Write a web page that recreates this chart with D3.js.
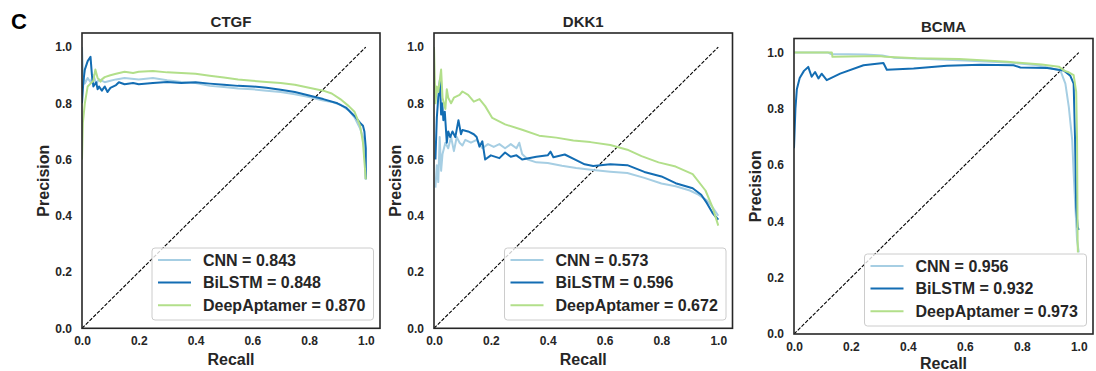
<!DOCTYPE html>
<html>
<head>
<meta charset="utf-8">
<script src="https://cdn.jsdelivr.net/npm/d3@7"></script>
<style>
  html, body { margin: 0; padding: 0; background: #fff; }
  svg { display: block; }
  text { font-family: "Liberation Sans", Arial, sans-serif; font-weight: bold; fill: #262626; }
</style>
</head>
<body>
<svg id="chart" width="1096" height="371"></svg>
<script>
// ---------------- DATA ----------------
const panelTitles = ["CTGF", "DKK1", "BCMA"];
const seriesNames = ["CNN", "BiLSTM", "DeepAptamer"];
const seriesColors = ["#a6cee3", "#136db3", "#b2df8a"];
const aucCTGF = ["0.843", "0.848", "0.870"];
const aucDKK1 = ["0.573", "0.596", "0.672"];
const aucBCMA = ["0.956", "0.932", "0.973"];
const tickValues = [0.0, 0.2, 0.4, 0.6, 0.8, 1.0];
const xLabel = "Recall";
const yLabel = "Precision";
const panelLetter = "C";

// [recall, precision]
const ctgfCNN = [[0,1.0],[0.003,0.92],[0.01,0.87],[0.02,0.89],[0.03,0.875],[0.04,0.9],[0.05,0.87],[0.06,0.885],[0.08,0.875],[0.1,0.88],[0.12,0.885],[0.15,0.89],[0.2,0.885],[0.25,0.89],[0.3,0.882],[0.35,0.876],[0.4,0.872],[0.45,0.862],[0.5,0.858],[0.55,0.853],[0.6,0.85],[0.65,0.845],[0.7,0.84],[0.75,0.832],[0.8,0.822],[0.85,0.81],[0.88,0.805],[0.91,0.795],[0.94,0.775],[0.96,0.75],[0.98,0.71],[0.99,0.68],[0.995,0.63],[1.0,0.53]];
const ctgfBiLSTM = [[0,0.8],[0.005,0.88],[0.01,0.92],[0.02,0.95],[0.03,0.965],[0.035,0.9],[0.04,0.86],[0.05,0.875],[0.055,0.85],[0.06,0.86],[0.07,0.845],[0.08,0.86],[0.09,0.84],[0.1,0.855],[0.12,0.865],[0.13,0.875],[0.15,0.868],[0.18,0.872],[0.2,0.868],[0.25,0.872],[0.3,0.876],[0.35,0.872],[0.4,0.875],[0.45,0.87],[0.5,0.866],[0.55,0.862],[0.6,0.86],[0.65,0.855],[0.7,0.848],[0.75,0.84],[0.8,0.828],[0.85,0.815],[0.9,0.8],[0.93,0.785],[0.96,0.755],[0.98,0.73],[0.99,0.72],[0.995,0.7],[1.0,0.64],[1.0,0.53]];
const ctgfDeep = [[0,0.6],[0.003,0.73],[0.01,0.8],[0.02,0.86],[0.03,0.87],[0.04,0.88],[0.047,0.92],[0.055,0.89],[0.065,0.877],[0.07,0.885],[0.08,0.893],[0.1,0.9],[0.12,0.905],[0.15,0.912],[0.18,0.908],[0.2,0.912],[0.25,0.915],[0.3,0.91],[0.35,0.908],[0.4,0.905],[0.45,0.898],[0.5,0.892],[0.55,0.885],[0.6,0.88],[0.65,0.876],[0.7,0.872],[0.75,0.866],[0.8,0.855],[0.85,0.845],[0.88,0.835],[0.91,0.815],[0.94,0.79],[0.96,0.77],[0.98,0.72],[0.99,0.66],[1.0,0.53]];

const dkk1CNN = [[0.005,0.5],[0.01,0.58],[0.015,0.52],[0.02,0.68],[0.025,0.56],[0.03,0.62],[0.04,0.66],[0.05,0.64],[0.06,0.68],[0.07,0.63],[0.08,0.68],[0.09,0.66],[0.1,0.65],[0.11,0.67],[0.13,0.66],[0.15,0.67],[0.17,0.64],[0.19,0.655],[0.21,0.645],[0.23,0.655],[0.25,0.64],[0.27,0.655],[0.29,0.64],[0.3,0.66],[0.31,0.62],[0.33,0.6],[0.36,0.59],[0.4,0.588],[0.45,0.578],[0.5,0.57],[0.56,0.563],[0.62,0.557],[0.68,0.552],[0.74,0.535],[0.8,0.515],[0.85,0.505],[0.9,0.49],[0.93,0.475],[0.96,0.455],[0.98,0.43],[1.0,0.4]];
const dkk1BiLSTM = [[0.005,0.6],[0.01,0.75],[0.015,0.82],[0.021,0.884],[0.025,0.76],[0.029,0.8],[0.033,0.74],[0.038,0.77],[0.045,0.66],[0.05,0.7],[0.057,0.68],[0.065,0.7],[0.075,0.68],[0.086,0.74],[0.095,0.69],[0.1,0.705],[0.12,0.7],[0.14,0.69],[0.15,0.68],[0.16,0.646],[0.17,0.665],[0.18,0.6],[0.2,0.615],[0.23,0.605],[0.25,0.625],[0.27,0.61],[0.29,0.615],[0.31,0.6],[0.36,0.61],[0.4,0.615],[0.41,0.628],[0.42,0.608],[0.46,0.618],[0.5,0.598],[0.53,0.583],[0.56,0.577],[0.62,0.583],[0.68,0.58],[0.74,0.556],[0.8,0.54],[0.85,0.516],[0.91,0.498],[0.94,0.475],[0.96,0.445],[0.98,0.41],[1.0,0.386]];
const dkk1Deep = [[0,1.0],[0.005,0.8],[0.01,0.86],[0.015,0.84],[0.025,0.92],[0.03,0.82],[0.04,0.78],[0.045,0.85],[0.05,0.82],[0.06,0.8],[0.07,0.82],[0.09,0.83],[0.1,0.842],[0.12,0.83],[0.14,0.806],[0.16,0.815],[0.18,0.79],[0.205,0.748],[0.25,0.725],[0.31,0.706],[0.37,0.685],[0.43,0.678],[0.49,0.668],[0.55,0.662],[0.62,0.652],[0.68,0.635],[0.73,0.612],[0.79,0.59],[0.85,0.575],[0.91,0.548],[0.955,0.49],[0.98,0.43],[1.0,0.365]];

const bcmaCNN = [[0,1.0],[0.12,1.0],[0.13,0.995],[0.25,0.993],[0.31,0.99],[0.35,0.982],[0.45,0.978],[0.6,0.972],[0.75,0.965],[0.85,0.956],[0.9,0.945],[0.936,0.935],[0.953,0.89],[0.965,0.807],[0.977,0.689],[0.982,0.571],[0.994,0.334],[1.0,0.29]];
const bcmaBiLSTM = [[0,0.66],[0.005,0.8],[0.01,0.87],[0.02,0.91],[0.035,0.935],[0.05,0.949],[0.062,0.914],[0.074,0.931],[0.086,0.908],[0.097,0.925],[0.115,0.902],[0.162,0.925],[0.244,0.955],[0.314,0.963],[0.326,0.939],[0.42,0.943],[0.537,0.953],[0.654,0.957],[0.771,0.955],[0.795,0.947],[0.889,0.945],[0.947,0.936],[0.97,0.918],[0.982,0.89],[0.987,0.69],[0.991,0.45],[0.996,0.38],[1.0,0.37]];
const bcmaDeep = [[0,1.0],[0.133,1.0],[0.135,0.985],[0.3,0.988],[0.32,0.985],[0.43,0.98],[0.58,0.977],[0.75,0.967],[0.87,0.958],[0.93,0.95],[0.95,0.935],[0.965,0.93],[0.982,0.92],[0.991,0.86],[0.994,0.69],[0.996,0.33],[0.997,0.29]];

// ---------------- DRAW ----------------
const svg = d3.select("#chart");

svg.append("text")
  .attr("x", 11).attr("y", 28.5)
  .style("font-size", "22px").style("fill", "#000")
  .text(panelLetter);

const panels = [
  { title: panelTitles[0], data: [ctgfCNN, ctgfBiLSTM, ctgfDeep], auc: aucCTGF, left: 82, top: 33, right: 380, bottom: 328.3, legTop: 248, legLeft: 152, xlabY: 365 },
  { title: panelTitles[1], data: [dkk1CNN, dkk1BiLSTM, dkk1Deep], auc: aucDKK1, left: 434, top: 33, right: 732.5, bottom: 328.3, legTop: 248, legLeft: 504.5, xlabY: 365 },
  { title: panelTitles[2], data: [bcmaCNN, bcmaBiLSTM, bcmaDeep], auc: aucBCMA, left: 794, top: 38.5, right: 1093, bottom: 334, legTop: 254, legLeft: 864.5, xlabY: 368.5 }
];

panels.forEach((p, pi) => {
  const x = d3.scaleLinear().domain([0, 1.05]).range([p.left, p.right]);
  const y = d3.scaleLinear().domain([0, 1.05]).range([p.bottom, p.top]);
  const g = svg.append("g");

  const clipId = "clip" + pi;
  g.append("clipPath").attr("id", clipId)
    .append("rect").attr("x", p.left).attr("y", p.top)
    .attr("width", p.right - p.left).attr("height", p.bottom - p.top);

  const plot = g.append("g").attr("clip-path", `url(#${clipId})`);

  // diagonal
  plot.append("line")
    .attr("x1", x(0)).attr("y1", y(0)).attr("x2", x(1)).attr("y2", y(1))
    .attr("stroke", "#000").attr("stroke-width", 1.1)
    .attr("stroke-dasharray", "3.7,1.6");

  const line = d3.line().x(d => x(d[0])).y(d => y(d[1]));
  p.data.forEach((s, i) => {
    plot.append("path").datum(s)
      .attr("d", line).attr("fill", "none")
      .attr("stroke", seriesColors[i]).attr("stroke-width", 2)
      .attr("stroke-linejoin", "round");
  });

  // axes (no tick marks)
  const xAxis = d3.axisBottom(x).tickValues(tickValues).tickFormat(d3.format(".1f")).tickSize(0).tickPadding(8);
  const yAxis = d3.axisLeft(y).tickValues(tickValues).tickFormat(d3.format(".1f")).tickSize(0).tickPadding(10);
  const gx = g.append("g").attr("transform", `translate(0,${p.bottom})`).call(xAxis);
  const gy = g.append("g").attr("transform", `translate(${p.left},0)`).call(yAxis);
  [gx, gy].forEach(a => {
    a.select(".domain").remove();
    a.selectAll("text").style("font-size", "12px").style("font-family", "Liberation Sans, Arial, sans-serif")
      .style("font-weight", "bold").style("fill", "#262626");
  });

  // frame
  g.append("rect")
    .attr("x", p.left).attr("y", p.top)
    .attr("width", p.right - p.left).attr("height", p.bottom - p.top)
    .attr("fill", "none").attr("stroke", "#262626").attr("stroke-width", 1.6);

  // title
  g.append("text")
    .attr("x", (p.left + p.right) / 2).attr("y", p.top - 6.5)
    .attr("text-anchor", "middle").style("font-size", "15px")
    .text(p.title);

  // axis labels
  g.append("text")
    .attr("x", (p.left + p.right) / 2).attr("y", p.xlabY)
    .attr("text-anchor", "middle").style("font-size", "16px")
    .text(xLabel);
  g.append("text")
    .attr("transform", `translate(${p.left - 33},${(p.top + p.bottom) / 2}) rotate(-90)`)
    .attr("text-anchor", "middle").style("font-size", "16px")
    .text(yLabel);

  // legend
  const legW = p.right - 6.5 - p.legLeft, legH = 72;
  const lg = g.append("g");
  lg.append("rect")
    .attr("x", p.legLeft).attr("y", p.legTop).attr("width", legW).attr("height", legH)
    .attr("rx", 3).attr("ry", 3)
    .attr("fill", "#fff").attr("fill-opacity", 0.8)
    .attr("stroke", "#cccccc").attr("stroke-width", 1);
  seriesNames.forEach((n, i) => {
    const cy = p.legTop + 12 + i * 22.6;
    lg.append("line")
      .attr("x1", p.legLeft + 6).attr("x2", p.legLeft + 39)
      .attr("y1", cy).attr("y2", cy)
      .attr("stroke", seriesColors[i]).attr("stroke-width", 2);
    lg.append("text")
      .attr("x", p.legLeft + 51).attr("y", cy + 5.8)
      .style("font-size", "16px")
      .text(`${n} = ${p.auc[i]}`);
  });
});
</script>
</body>
</html>
